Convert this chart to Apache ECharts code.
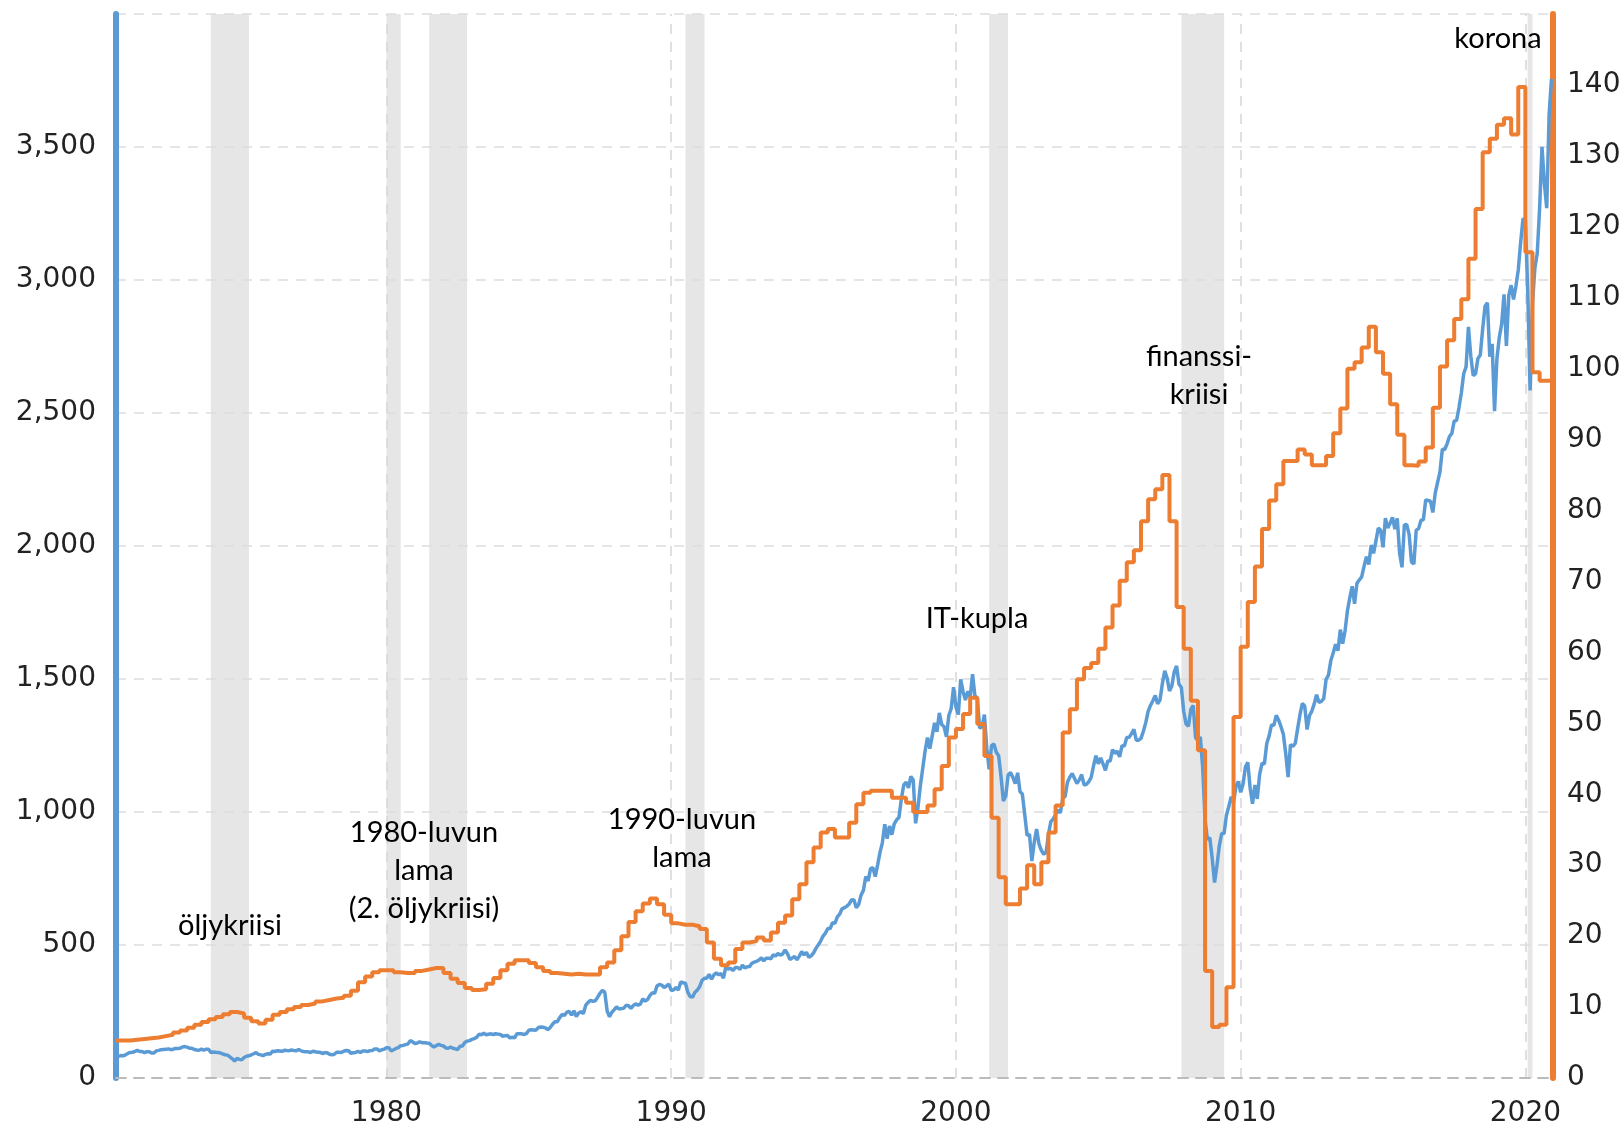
<!DOCTYPE html>
<html>
<head>
<meta charset="utf-8">
<title>S&amp;P 500 ja osakekohtainen tulos</title>
<script src="https://cdn.jsdelivr.net/npm/echarts@6/dist/echarts.min.js"></script>
<style>
html, body { margin: 0; padding: 0; background: #fff; }
#chart { width: 1624px; height: 1128px; }
</style>
</head>
<body>
<div id="chart"></div>
<script>
// S&P 500, kuukauden päätöskurssi heinäkuusta 1970 joulukuuhun 2020 (vasen akseli)
const spxStart = 1970.5;
const spxValues = [
  78, 81.5, 84.2, 83.3, 87.2, 92.2,
  95.9, 96.8, 100.3, 104, 99.6, 99.7, 95.6, 99, 98.3, 94.2, 94, 102.1,
  103.9, 106.6, 107.2, 107.7, 109.5, 107.1, 107.4, 111.1, 110.6, 111.6, 116.7, 118.1,
  116, 111.7, 111.5, 107, 105, 104.3, 108.2, 104.3, 108.4, 108.3, 96, 97.6,
  96.6, 96.2, 94, 90.3, 87.3, 86, 79.3, 72.2, 63.5, 73.9, 70, 68.6,
  77, 81.6, 83.4, 87.3, 91.2, 95.2, 88.8, 86.9, 83.9, 89, 91.2, 90.2,
  100.9, 99.7, 102.8, 101.6, 100.2, 104.3, 103.4, 102.9, 105.2, 102.9, 102.1, 107.5,
  102, 99.8, 98.4, 98.4, 96.1, 100.5, 98.9, 96.8, 96.5, 92.3, 94.8, 95.1,
  89.3, 87, 89.2, 96.8, 97.2, 95.5, 100.7, 103.3, 102.5, 93.2, 94.7, 96.1,
  99.9, 96.3, 101.6, 101.8, 99.1, 102.9, 103.8, 109.3, 109.3, 101.8, 106.2, 107.9,
  114.2, 113.7, 102.1, 106.3, 111.2, 114.2, 121.7, 122.4, 125.5, 127.5, 140.5, 135.8,
  129.6, 131.3, 136, 132.8, 132.6, 131.2, 130.9, 122.8, 116.2, 121.9, 126.4, 122.6,
  120.4, 113.1, 112, 116.4, 111.9, 109.6, 107.1, 119.5, 120.4, 133.7, 138.5, 140.6,
  145.3, 148.1, 153, 164.4, 162.4, 168.1, 162.6, 164.4, 166.1, 163.6, 166.4, 164.9,
  163.4, 157.1, 159.2, 160.1, 150.6, 153.2, 150.7, 166.7, 166.1, 166.1, 163.6, 167.2,
  179.6, 181.2, 180.7, 179.8, 189.6, 191.9, 190.9, 188.6, 182.1, 189.8, 202.2, 211.3,
  211.8, 226.9, 238.9, 235.5, 247.4, 250.8, 236.1, 252.9, 231.3, 244, 249.2, 242.2,
  274.1, 284.2, 291.7, 288.4, 290.1, 304, 318.7, 329.8, 321.8, 251.8, 230.3, 247.1,
  257.1, 267.8, 258.9, 261.3, 262.2, 273.5, 272, 261.5, 271.9, 279, 273.7, 277.7,
  297.5, 288.9, 294.9, 309.6, 320.5, 318, 346.1, 351.5, 349.2, 340.4, 346, 353.4,
  329.1, 331.9, 339.9, 330.8, 361.2, 358, 356.2, 322.6, 306.1, 304, 322.2, 330.2,
  343.9, 367.1, 375.2, 375.4, 389.8, 371.2, 387.8, 395.4, 387.9, 392.5, 375.2, 417.1,
  408.8, 412.7, 403.7, 415, 415.4, 408.1, 424.2, 414, 417.8, 418.7, 431.4, 435.7,
  438.8, 443.4, 451.7, 440.2, 450.2, 450.5, 448.1, 463.6, 458.9, 467.8, 461.8, 466.5,
  481.6, 467.1, 445.8, 450.9, 456.5, 444.3, 458.3, 475.5, 462.7, 472.4, 453.7, 459.3,
  470.4, 487.4, 500.7, 514.7, 533.4, 544.8, 562.1, 561.9, 584.4, 581.5, 605.4, 615.9,
  636, 640.4, 645.5, 654.2, 669.1, 670.6, 640, 652, 687.3, 705.3, 757, 740.7,
  786.2, 790.8, 757.1, 801.3, 848.3, 885.1, 954.3, 899.5, 947.3, 914.6, 955.4, 970.4,
  980.3, 1049.3, 1101.8, 1111.8, 1090.8, 1133.8, 1120.7, 957.3, 1017, 1098.7, 1163.6, 1229.2,
  1279.6, 1238.3, 1286.4, 1335.2, 1301.8, 1372.7, 1328.7, 1320.4, 1282.7, 1362.9, 1388.9, 1469.3,
  1394.5, 1366.4, 1498.6, 1452.4, 1420.6, 1454.6, 1430.8, 1517.7, 1436.5, 1429.4, 1315, 1320.3,
  1366, 1239.9, 1160.3, 1249.5, 1255.8, 1224.4, 1211.2, 1133.6, 1040.9, 1059.8, 1139.5, 1148.1,
  1130.2, 1106.7, 1147.4, 1076.9, 1067.1, 989.8, 911.6, 916.1, 815.3, 885.8, 936.3, 879.8,
  855.7, 841.2, 848.2, 916.9, 963.6, 974.5, 990.3, 1008, 996, 1050.7, 1058.2, 1111.9,
  1131.1, 1144.9, 1126.2, 1107.3, 1120.7, 1140.8, 1101.7, 1104.2, 1114.6, 1130.2, 1173.8, 1211.9,
  1181.3, 1203.6, 1180.6, 1156.9, 1191.5, 1191.3, 1234.2, 1220.3, 1228.8, 1207, 1249.5, 1248.3,
  1280.1, 1280.7, 1294.8, 1310.6, 1270.1, 1270.2, 1276.7, 1303.8, 1335.9, 1377.9, 1400.6, 1418.3,
  1438.2, 1406.8, 1420.9, 1482.4, 1530.6, 1503.4, 1455.3, 1474, 1526.8, 1549.4, 1481.1, 1468.4,
  1378.6, 1330.6, 1322.7, 1385.6, 1400.4, 1280, 1267.4, 1282.8, 1166.4, 968.8, 896.2, 903.3,
  825.9, 735.1, 797.9, 872.8, 919.1, 919.3, 987.5, 1020.6, 1057.1, 1036.2, 1095.6, 1115.1,
  1073.9, 1104.5, 1169.4, 1186.7, 1089.4, 1030.7, 1101.6, 1049.3, 1141.2, 1183.3, 1180.6, 1257.6,
  1286.1, 1327.2, 1325.8, 1363.6, 1345.2, 1320.6, 1292.3, 1218.9, 1131.4, 1253.3, 1247, 1257.6,
  1312.4, 1365.7, 1408.5, 1397.9, 1310.3, 1362.2, 1379.3, 1406.6, 1440.7, 1412.2, 1416.2, 1426.2,
  1498.1, 1514.7, 1569.2, 1597.6, 1630.7, 1606.3, 1685.7, 1633, 1681.6, 1756.5, 1805.8, 1848.4,
  1782.6, 1859.5, 1872.3, 1884, 1923.6, 1960.2, 1930.7, 2003.4, 1972.3, 2018.1, 2067.6, 2058.9,
  1995, 2104.5, 2067.9, 2085.5, 2107.4, 2063.1, 2103.8, 1972.2, 1920, 2079.4, 2080.4, 2043.9,
  1940.2, 1932.2, 2059.7, 2065.3, 2097, 2098.9, 2173.6, 2171, 2168.3, 2126.2, 2198.8, 2238.8,
  2278.9, 2363.6, 2362.7, 2384.2, 2411.8, 2423.4, 2470.3, 2471.7, 2519.4, 2575.3, 2647.6, 2673.6,
  2823.8, 2713.8, 2640.9, 2648.1, 2705.3, 2718.4, 2816.3, 2901.5, 2914, 2711.7, 2760.2, 2506.9,
  2704.1, 2784.5, 2834.4, 2945.8, 2752.1, 2941.8, 2980.4, 2926.5, 2976.7, 3037.6, 3141, 3230.8,
  3225.5, 2954.2, 2584.6, 2912.4, 3044.3, 3100.3, 3271.1, 3500.3, 3363, 3270, 3621.6, 3756.1
];

// Osakekohtainen tulos (12 kk), neljännesvuosittain 1970 Q3 alkaen (oikea akseli)
const epsStart = 1970.5;
const epsValues = [
  5.3, 5.3,
  5.4, 5.5, 5.6, 5.7,
  5.9, 6.1, 6.4, 6.7,
  7.1, 7.5, 7.9, 8.3,
  8.6, 9.0, 9.3, 9.1,
  8.5, 8.0, 7.7, 8.2,
  8.9, 9.3, 9.7, 10.0,
  10.3, 10.5, 10.8, 11.0,
  11.2, 11.3, 11.6, 12.3,
  13.5, 14.3, 14.9, 15.2,
  15.2, 14.9, 14.8, 14.8,
  15.1, 15.3, 15.5, 15.5,
  14.8, 14.0, 13.4, 12.7,
  12.4, 12.5, 13.3, 14.1,
  15.2, 16.1, 16.6, 16.6,
  16.2, 15.6, 15.1, 14.8,
  14.7, 14.6, 14.7, 14.6,
  14.6, 14.6, 15.6, 16.3,
  18.0, 20.0, 22.0, 23.5,
  24.6, 25.3, 24.5, 23.0,
  21.8, 21.6, 21.6, 21.4,
  21.0, 19.1, 16.8, 15.9,
  16.3, 18.2, 19.1, 19.3,
  19.8, 19.4, 20.5, 21.9,
  22.9, 25.2, 27.3, 30.4,
  32.5, 34.6, 35.1, 33.9,
  33.9, 36.0, 38.6, 40.2,
  40.5, 40.5, 40.5, 39.5,
  39.5, 38.8, 37.5, 37.5,
  38.4, 40.7, 44.0, 48.0,
  49.2, 51.3, 53.6, 49.9,
  45.4, 36.7, 28.3, 24.5,
  24.5, 26.7, 30.0, 27.3,
  30.4, 34.6, 38.4, 48.7,
  52.0, 56.2, 57.8, 58.5,
  60.5, 63.5, 66.6, 70.1,
  72.7, 74.4, 78.5, 81.6,
  83.0, 85.0, 78.5, 66.4,
  60.5, 53.2, 46.2, 15.1,
  7.2, 7.5, 12.8, 50.9,
  60.8, 67.1, 72.1, 77.4,
  81.4, 83.7, 87.0, 87.0,
  88.6, 87.9, 86.4, 86.4,
  87.7, 90.9, 94.4, 100.0,
  100.9, 103.0, 105.9, 102.3,
  99.3, 95.0, 90.7, 86.4,
  86.3, 86.9, 88.9, 94.5,
  100.3, 104.0, 107.0, 109.8,
  115.5, 122.5, 130.5, 132.4,
  134.4, 135.3, 133.0, 139.7,
  116.4, 99.5, 98.3, 98.3
];

// taantumajaksot (harmaat palkit)
const recessions = [
  [1973.83, 1975.17],
  [1980.0, 1980.5],
  [1981.5, 1982.83],
  [1990.5, 1991.17],
  [2001.17, 2001.83],
  [2007.92, 2009.42],
  [2020.08, 2020.25]
];
const decadeTicks = [1980, 1990, 2000, 2010, 2020];

// tekstit kuvan päällä
const notes = [
  { lines: ['öljykriisi'], x: 230, y: 926 },
  { lines: ['1980-luvun', 'lama', '(2. öljykriisi)'], x: 424, y: 833 },
  { lines: ['1990-luvun', 'lama'], x: 682, y: 820 },
  { lines: ['IT-kupla'], x: 977, y: 619 },
  { lines: ['finanssi-', 'kriisi'], x: 1199, y: 357 },
  { lines: ['korona'], x: 1498, y: 39 }
];

const blue = '#5b9bd5';
const orange = '#ed7d31';
const tickFont = { fontFamily: '"DejaVu Sans", Verdana, sans-serif', fontSize: 28, color: '#222' };

const spxData = spxValues.map((v, i) => [spxStart + i / 12, v]);
const epsData = epsValues.map((v, i) => [epsStart + i * 0.25, v]);
// pidä viimeinen arvo kuvan loppuun asti
epsData.push([spxData[spxData.length - 1][0], epsValues[epsValues.length - 1]]);

const graphics = [];
notes.forEach(n => {
  n.lines.forEach((t, k) => {
    graphics.push({
      type: 'text',
      x: n.x,
      y: n.y + k * 38,
      z: 100,
      style: {
        text: t,
        fill: '#000',
        font: '29px Lato, "Open Sans", sans-serif',
        textAlign: 'center',
        textVerticalAlign: 'middle'
      }
    });
  });
});

const chart = echarts.init(document.getElementById('chart'));

const option = {
  animation: false,
  backgroundColor: '#fff',
  grid: { left: 116, right: 71, top: 14, bottom: 47 },
  xAxis: {
    type: 'value',
    min: 1970.5,
    max: 2020.97,
    z: 3,
    axisLine: { show: true, lineStyle: { color: '#bbb', width: 2, type: [10, 8] } },
    axisTick: { show: false },
    splitLine: { show: false },
    axisLabel: Object.assign({
      customValues: decadeTicks,
      margin: 22,
      formatter: v => String(Math.round(v))
    }, tickFont)
  },
  yAxis: [
    {
      type: 'value',
      position: 'left',
      min: 0,
      max: 4000,
      interval: 500,
      z: 3,
      axisLine: { show: true, onZero: false, lineStyle: { color: blue, width: 6 } },
      axisTick: { show: false },
      splitLine: { show: true, lineStyle: { color: '#ddd', width: 1.5, type: [10, 8] } },
      axisLabel: Object.assign({
        margin: 20,
        showMaxLabel: false,
        formatter: v => v.toLocaleString('en-US')
      }, tickFont)
    },
    {
      type: 'value',
      position: 'right',
      min: 0,
      max: 150,
      interval: 10,
      z: 3,
      axisLine: { show: true, onZero: false, lineStyle: { color: orange, width: 6 } },
      axisTick: { show: false },
      splitLine: { show: false },
      axisLabel: Object.assign({
        margin: 14,
        showMaxLabel: false
      }, tickFont)
    }
  ],
  series: [
    {
      // taustan palkit ja pystyviivat
      type: 'line',
      data: [],
      silent: true,
      markArea: {
        silent: true,
        z: 1,
        itemStyle: { color: '#e6e6e6' },
        label: { show: false },
        data: recessions.map(r => [{ xAxis: r[0] }, { xAxis: r[1] }])
      },
      markLine: {
        silent: true,
        z: 2,
        symbol: 'none',
        label: { show: false },
        lineStyle: { color: '#d6d6d6', width: 1.5, type: [10, 8] },
        data: decadeTicks.map(t => ({ xAxis: t }))
      }
    },
    {
      name: 'S&P 500',
      type: 'line',
      yAxisIndex: 0,
      data: spxData,
      showSymbol: false,
      z: 5,
      lineStyle: { color: blue, width: 3.5 },
      itemStyle: { color: blue }
    },
    {
      name: 'EPS',
      type: 'line',
      yAxisIndex: 1,
      step: 'end',
      data: epsData,
      showSymbol: false,
      z: 6,
      lineStyle: { color: orange, width: 4 },
      itemStyle: { color: orange }
    }
  ],
  graphic: graphics
};

chart.setOption(option);
</script>
</body>
</html>
